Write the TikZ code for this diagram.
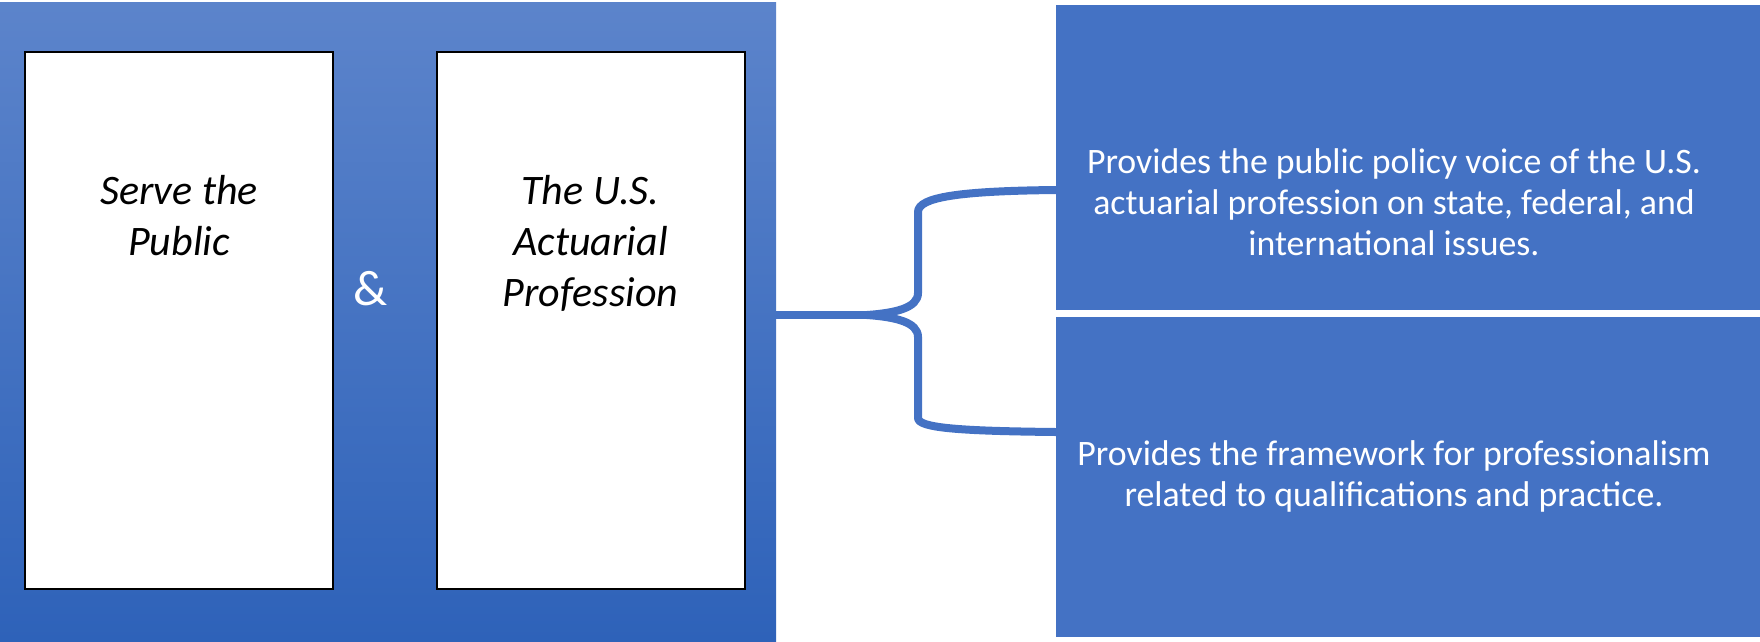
\documentclass[tikz,border=0pt]{standalone}
\usepackage{fontspec}
\setmainfont{Carlito}
\usetikzlibrary{positioning}
\definecolor{boxblue}{HTML}{4472C4}
\definecolor{fadetop}{HTML}{5C84CB}
\definecolor{fadebottom}{HTML}{2E62B9}

\begin{document}
\begin{tikzpicture}[x=1pt,y=-1pt,
    card/.style={draw=black, line width=2pt, fill=white, minimum width=308pt, minimum height=537pt, inner sep=0pt},
    cardtext/.style={anchor=north, inner sep=0pt, align=center, font=\fontsize{42}{51}\selectfont\itshape},
    panel/.style={fill=boxblue, minimum width=704pt, inner sep=0pt},
    paneltext/.style={inner sep=0pt, align=center, text=white, font=\fontsize{35.8}{41}\selectfont},
    bracket/.style={draw=boxblue, line width=8pt, line join=round}]
    \useasboundingbox (0,0) rectangle (1760,641);
    % Shaded frame round the two cards
    \node[top color=fadetop, bottom color=fadebottom, minimum width=776pt, minimum height=639pt, inner sep=0pt, anchor=north west] (frame) at (0,2) {};
    % The two white cards
    \node[card] (public) at (179,320.5) {};
    \node[card] (profession) at (590.5,320.5) {};
    \node[cardtext] (publictext) at (179,175) {Serve the\\Public};
    \node[cardtext] (professiontext) at (590.5,175) {The U.S.\\Actuarial\\Profession};
    \node[text=white, font=\fontsize{50}{60}\selectfont] (amp) at (371,289) {\&};
    % Right-hand panels
    \node[panel, minimum height=305pt] (voice) at (1408,157.5) {};
    \node[panel, minimum height=320pt] (framework) at (1408,477) {};
    \node[paneltext, anchor=north] (voicetext) at (1394,148) {Provides the public policy voice of the U.S.\\actuarial profession on state, federal, and\\international issues.};
    \node[paneltext] (frameworktext) at (1394,476) {Provides the framework for professionalism\\related to qualifications and practice.};
    % Bracket joining frame and panels
    \coordinate (tip) at (867,315);
    \coordinate (upperend) at (voice.west |- 0,190);
    \coordinate (lowerend) at (framework.west |- 0,432);
    \draw[bracket] (frame.east |- tip) -- (tip);
    \draw[bracket] (tip) .. controls (895,313) and (918,308) .. (918,293) -- (918,212)
        .. controls (918,197) and (960,191) .. (upperend);
    \draw[bracket] (tip) .. controls (895,317) and (918,322) .. (918,337) -- (918,418)
        .. controls (918,428) and (960,431) .. (lowerend);
\end{tikzpicture}
\end{document}
